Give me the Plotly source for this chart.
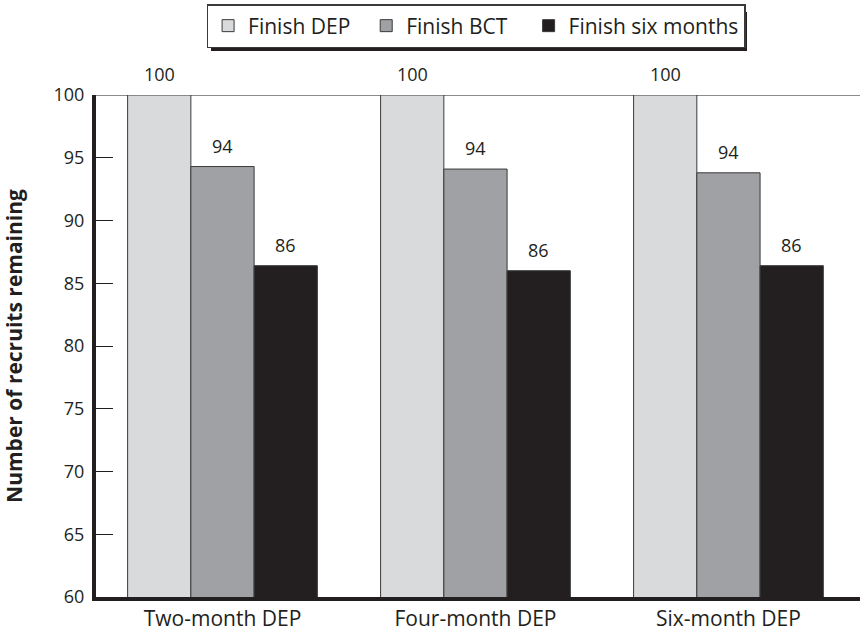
import plotly.graph_objects as go

categories = ["Two-month DEP", "Four-month DEP", "Six-month DEP"]
series_names = ["Finish DEP", "Finish BCT", "Finish six months"]
finish_dep = [100, 100, 100]
finish_bct = [94.3, 94.1, 93.8]
finish_six = [86.4, 86.0, 86.4]
series_values = [finish_dep, finish_bct, finish_six]
colors = ["#d9dadc", "#a0a1a4", "#231f20"]
y_ticks = [60, 65, 70, 75, 80, 85, 90, 95, 100]
legend_pad = ["\u00a0\u00a0", "\u00a0\u00a0\u00a0", ""]

FONT = "Open Sans"
TXT = "#231f20"

fig = go.Figure()
for name, vals, col, pad in zip(series_names, series_values, colors, legend_pad):
    fig.add_trace(go.Bar(
        x=categories, y=vals, name=name + pad,
        marker=dict(color=col, line=dict(color="#3a3a3a", width=1)),
        cliponaxis=False,
    ))

annotations = []
for j, vals in enumerate(series_values):
    for i, v in enumerate(vals):
        annotations.append(dict(
            x=i + (j - 1) * 0.25, y=v, xref="x", yref="y",
            text=f"{v:.0f}", showarrow=False, yanchor="bottom", yshift=7,
            font=dict(family=FONT, size=18, color=TXT),
        ))

fig.update_layout(
    width=861, height=632,
    margin=dict(l=96, r=1, t=95, b=35),
    paper_bgcolor="white", plot_bgcolor="white",
    barmode="group", bargap=0.25, bargroupgap=0,
    font=dict(family=FONT, size=18, color=TXT),
    showlegend=True,
    legend=dict(
        orientation="h", x=0.4975, xanchor="center", y=1 + (95 - 4) / 502, yanchor="top",
        bgcolor="white", bordercolor="#3a3a3a", borderwidth=1.5,
        font=dict(family=FONT, size=21, color=TXT),
        itemwidth=30, traceorder="normal",
    ),
    annotations=annotations,
    shapes=[
        dict(type="line", xref="paper", yref="y", x0=0, x1=1, y0=100, y1=100,
             line=dict(color="#666666", width=1.5), layer="below"),
        dict(type="rect", xref="paper", yref="paper",
             x0=(211 - 96) / 764, x1=(747 - 96) / 764,
             y0=1 + (95 - 51) / 502, y1=1 + (95 - 12) / 502,
             fillcolor="#231f20", line=dict(width=0), layer="below"),
    ],
    xaxis=dict(
        range=[-0.5, 2.52], showgrid=False, ticks="",
        showline=True, linecolor="#231f20", linewidth=4,
        tickfont=dict(family=FONT, size=21, color=TXT),
    ),
    yaxis=dict(
        range=[60, 100], tickvals=y_ticks, showgrid=False, zeroline=False,
        showline=True, linecolor="#231f20", linewidth=4,
        ticks="inside", ticklen=17, tickwidth=1.2, tickcolor="#231f20",
        ticklabelstandoff=4,
        tickfont=dict(family=FONT, size=18, color=TXT),
        title=dict(text="<b>Number of recruits remaining</b>",
                   font=dict(family=FONT, size=21, color=TXT), standoff=30),
    ),
)

fig.write_html("out.html", config={"displayModeBar": False},
               post_script="document.body.style.margin='0';document.body.style.padding='0';")
